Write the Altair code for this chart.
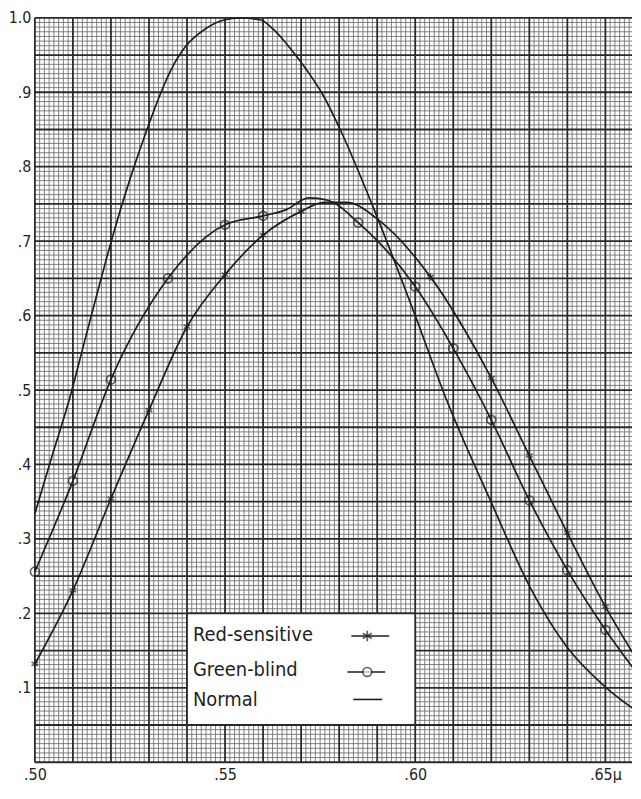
import altair as alt
import pandas as pd
import numpy as np

# ---------------- data ----------------
# Red-sensitive (asterisk markers)
red_mark_x = [0.500, 0.510, 0.520, 0.530, 0.540, 0.550, 0.560, 0.570, 0.604, 0.620, 0.630, 0.640, 0.650]
red_mark_y = [0.132, 0.231, 0.354, 0.473, 0.585, 0.655, 0.708, 0.740, 0.652, 0.516, 0.412, 0.308, 0.209]
red_curve_x = [0.500, 0.510, 0.520, 0.530, 0.540, 0.550, 0.560, 0.570, 0.576, 0.582, 0.590, 0.604, 0.620, 0.630, 0.640, 0.650, 0.659]
red_curve_y = [0.132, 0.231, 0.354, 0.473, 0.585, 0.655, 0.708, 0.740, 0.752, 0.752, 0.730, 0.652, 0.516, 0.412, 0.308, 0.209, 0.132]

# Green-blind (circle markers)
gb_mark_x = [0.500, 0.510, 0.520, 0.535, 0.550, 0.560, 0.585, 0.600, 0.610, 0.620, 0.630, 0.640, 0.650]
gb_mark_y = [0.256, 0.378, 0.514, 0.650, 0.722, 0.734, 0.725, 0.639, 0.556, 0.460, 0.352, 0.258, 0.178]
gb_curve_x = [0.500, 0.510, 0.520, 0.535, 0.550, 0.560, 0.566, 0.572, 0.577, 0.585, 0.600, 0.610, 0.620, 0.630, 0.640, 0.650, 0.659]
gb_curve_y = [0.256, 0.378, 0.514, 0.650, 0.722, 0.734, 0.742, 0.758, 0.755, 0.725, 0.639, 0.556, 0.460, 0.352, 0.258, 0.178, 0.115]

# Normal (plain curve)
normal_x = [0.500, 0.5045, 0.5092, 0.5131, 0.5166, 0.5201, 0.5253, 0.5292, 0.5327, 0.5358, 0.5397,
            0.5445, 0.5497, 0.5542, 0.5594, 0.5628, 0.5673, 0.5716, 0.5759, 0.5800, 0.589, 0.600,
            0.608, 0.620, 0.630, 0.640, 0.650, 0.659]
normal_y = [0.334, 0.411, 0.490, 0.566, 0.634, 0.700, 0.788, 0.846, 0.894, 0.930, 0.962,
            0.984, 0.997, 1.000, 0.997, 0.984, 0.958, 0.929, 0.895, 0.853, 0.745, 0.600,
            0.490, 0.349, 0.237, 0.154, 0.101, 0.066]

series_names = ["Red-sensitive", "Green-blind", "Normal"]

x_ticks = [0.50, 0.55, 0.60, 0.65]
y_ticks = [0.1, 0.2, 0.3, 0.4, 0.5, 0.6, 0.7, 0.8, 0.9, 1.0]

X_DOMAIN = [0.50, 0.657]
Y_DOMAIN = [0.0, 1.0]
W, H = 600, 748

# ---------------- tables ----------------
curves = pd.concat([
    pd.DataFrame({"series": series_names[0], "x": red_curve_x, "y": red_curve_y}),
    pd.DataFrame({"series": series_names[1], "x": gb_curve_x, "y": gb_curve_y}),
    pd.DataFrame({"series": series_names[2], "x": normal_x, "y": normal_y}),
], ignore_index=True)
red_pts = pd.DataFrame({"x": red_mark_x, "y": red_mark_y})
gb_pts = pd.DataFrame({"x": gb_mark_x, "y": gb_mark_y})

# graph paper: heavy every 0.01 (x) / 0.05 (y), 8 fine divisions between
xs_all = np.round(np.arange(0, 128) * 0.00125 + 0.5, 5)
xs_all = xs_all[xs_all <= X_DOMAIN[1]]
heavy_x = [float(v) for i, v in enumerate(xs_all) if i % 8 == 0]
fine_x = [float(v) for i, v in enumerate(xs_all) if i % 8 != 0]
ys_all = np.round(np.arange(0, 161) * 0.00625, 5)
heavy_y = [float(v) for i, v in enumerate(ys_all) if i % 8 == 0]
fine_y = [float(v) for i, v in enumerate(ys_all) if i % 8 != 0]

INK = "#1e1e1e"
FONT = "Liberation Sans Narrow, DejaVu Sans Condensed, sans-serif"

xscale = alt.Scale(domain=X_DOMAIN, nice=False, zero=False)
yscale = alt.Scale(domain=Y_DOMAIN, nice=False, zero=False)

x_axis = alt.Axis(
    values=x_ticks, grid=False, ticks=False, domain=False, title=None,
    labelExpr="'.' + round(datum.value*100) + (datum.value > 0.64 ? 'μ' : '')",
    labelFont=FONT, labelFontSize=16, labelColor=INK, labelPadding=4,
    labelFlush=False)
y_axis = alt.Axis(
    values=y_ticks, grid=False, ticks=False, domain=False, title=None,
    labelExpr="datum.value >= 0.99 ? '1.0' : '.' + round(datum.value*10)",
    labelFont=FONT, labelFontSize=16, labelColor=INK, labelPadding=4,
    minExtent=25, maxExtent=25, labelFlush=False)


def X(field="x:Q"):
    return alt.X(field, scale=xscale, axis=x_axis)


def Y(field="y:Q"):
    return alt.Y(field, scale=yscale, axis=y_axis)


# ---------------- graph-paper grid ----------------
fine_v = alt.Chart(pd.DataFrame({"x": fine_x})).mark_rule(
    color="#727272", strokeWidth=0.9).encode(x=X())
fine_h = alt.Chart(pd.DataFrame({"y": fine_y})).mark_rule(
    color="#727272", strokeWidth=0.9).encode(y=Y())
heavy_v = alt.Chart(pd.DataFrame({"x": heavy_x})).mark_rule(
    color="#2a2a2a", strokeWidth=1.8).encode(x=X())
heavy_h = alt.Chart(pd.DataFrame({"y": heavy_y})).mark_rule(
    color="#2a2a2a", strokeWidth=1.8).encode(y=Y())

# ---------------- curves and markers ----------------
lines = alt.Chart(curves).mark_line(
    color=INK, strokeWidth=1.7, interpolate="monotone", clip=True
).encode(x=X(), y=Y(), detail="series:N")

ASTERISK = "M0,-1L0,1M-0.87,-0.5L0.87,0.5M-0.87,0.5L0.87,-0.5"

red_marks = alt.Chart(red_pts).mark_point(
    shape=ASTERISK, size=60, color=INK, strokeWidth=1.6, filled=False
).encode(x=X(), y=Y())

gb_marks = alt.Chart(gb_pts).mark_point(
    shape="circle", size=80, color=INK, strokeWidth=1.7, filled=False
).encode(x=X(), y=Y())

# ---------------- hand-drawn style legend (box sits on grid lines .54-.60, .05-.20) ----------------
one = pd.DataFrame({"k": [0]})
box_x0 = 0.04 / (X_DOMAIN[1] - X_DOMAIN[0]) * W
box_x1 = 0.10 / (X_DOMAIN[1] - X_DOMAIN[0]) * W
legend_box = alt.Chart(one).mark_rect(
    fill="white", stroke="#2a2a2a", strokeWidth=1.8
).encode(x=alt.value(box_x0), x2=alt.value(box_x1),
         y=alt.value(H * 0.80), y2=alt.value(H * 0.95))

row_y = [H * 0.829, H * 0.876, H * 0.917]
legend_layers = [legend_box]
for name, ry in zip(series_names, row_y):
    legend_layers.append(
        alt.Chart(pd.DataFrame({"label": [name]})).mark_text(
            align="left", baseline="middle", font=FONT, fontSize=20, color=INK
        ).encode(x=alt.value(box_x0 + 6), y=alt.value(ry), text="label:N")
    )
# symbols
legend_layers.append(alt.Chart(one).mark_rule(color=INK, strokeWidth=1.6).encode(
    x=alt.value(318), x2=alt.value(356), y=alt.value(row_y[0] + 1)))
legend_layers.append(alt.Chart(one).mark_point(
    shape=ASTERISK, size=110, color=INK, strokeWidth=1.8, filled=False).encode(
    x=alt.value(334), y=alt.value(row_y[0] + 1)))
legend_layers.append(alt.Chart(one).mark_rule(color=INK, strokeWidth=1.6).encode(
    x=alt.value(314), x2=alt.value(352), y=alt.value(row_y[1] + 2)))
legend_layers.append(alt.Chart(one).mark_point(
    shape="circle", size=80, stroke=INK, strokeWidth=1.6, filled=True, fill="white").encode(
    x=alt.value(334), y=alt.value(row_y[1] + 2)))
legend_layers.append(alt.Chart(one).mark_rule(color=INK, strokeWidth=1.6).encode(
    x=alt.value(320), x2=alt.value(349), y=alt.value(row_y[2] - 1)))

chart = alt.layer(
    fine_v, fine_h, heavy_v, heavy_h, lines, red_marks, gb_marks, *legend_layers
).properties(
    width=W, height=H,
    padding={"left": 0, "top": 0, "right": 0, "bottom": 0},
    background="white",
).configure_view(stroke=None)

chart.save("out.html", embed_options={"renderer": "svg", "actions": False})
